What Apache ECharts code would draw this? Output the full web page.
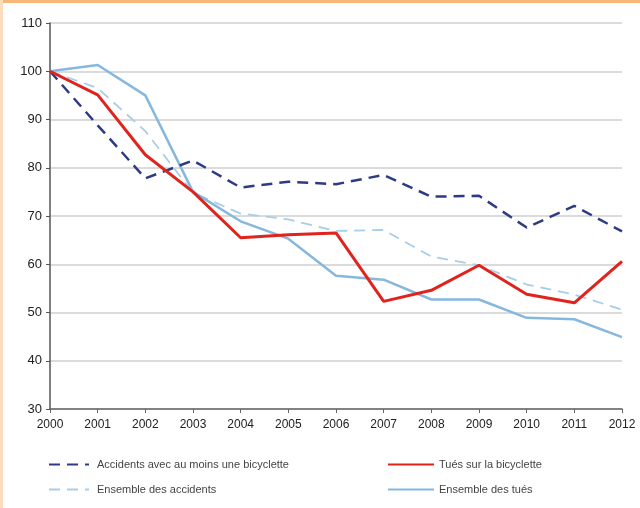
<!DOCTYPE html>
<html>
<head>
<meta charset="utf-8">
<script src="https://cdn.jsdelivr.net/npm/echarts@6/dist/echarts.min.js"></script>
<style>
  html, body { margin: 0; padding: 0; background: #fff; }
  #chart { width: 640px; height: 508px; }
</style>
</head>
<body>
<div id="chart"></div>
<script>
  // années (axe x)
  var years = ['2000', '2001', '2002', '2003', '2004', '2005', '2006',
               '2007', '2008', '2009', '2010', '2011', '2012'];

  // indices base 100 en 2000
  var accidentsVelo = [100, 88.8, 77.8, 81.5, 75.9, 77.1, 76.6, 78.5, 74.0, 74.2, 67.6, 72.1, 66.8];
  var tuesVelo      = [100, 95.1, 82.7, 75.0, 65.5, 66.1, 66.5, 52.3, 54.6, 59.8, 53.8, 52.0, 60.6];
  var ensAccidents  = [100, 96.5, 87.6, 74.8, 70.5, 69.3, 66.9, 67.1, 61.6, 59.8, 55.8, 53.7, 50.6];
  var ensTues       = [100, 101.3, 95.0, 75.0, 68.9, 65.3, 57.6, 56.8, 52.7, 52.7, 48.9, 48.6, 44.9];

  var names = ['Accidents avec au moins une bicyclette', 'Tués sur la bicyclette',
               'Ensemble des accidents', 'Ensemble des tués'];

  var font = 'Liberation Sans, Arial, sans-serif';

  // une légende par entrée, placée comme dans l'original
  function legendAt(name, left, top, w, pad) {
    return {
      data: [name],
      left: left,
      top: top,
      padding: 0,
      itemWidth: w,
      itemHeight: 12,
      itemStyle: { opacity: 0 },
      textStyle: { fontFamily: font, fontSize: 11, color: '#444', padding: [0, 0, 0, pad] }
    };
  }

  var option = {
    animation: false,
    backgroundColor: '#fff',
    grid: { left: 50, right: 18, top: 23, bottom: 99 },
    legend: [
      legendAt(names[0], 48, 459, 40, 3),
      legendAt(names[1], 387, 459, 46, 0),
      legendAt(names[2], 48, 484, 40, 3),
      legendAt(names[3], 387, 484, 46, 0)
    ],
    xAxis: {
      type: 'category',
      data: years,
      boundaryGap: false,
      axisLine: { lineStyle: { color: '#666', width: 1.5 } },
      axisTick: { show: true, length: 4, lineStyle: { color: '#666' } },
      axisLabel: { color: '#222', fontFamily: font, fontSize: 12, margin: 10 },
      splitLine: { show: false }
    },
    yAxis: {
      type: 'value',
      min: 30,
      max: 110,
      interval: 10,
      axisLine: { show: true, lineStyle: { color: '#555', width: 1.5 } },
      axisTick: { show: true, length: 4, lineStyle: { color: '#555' } },
      axisLabel: { color: '#222', fontFamily: font, fontSize: 13, margin: 8 },
      splitLine: { lineStyle: { color: '#cfcfcf', width: 1.5 } }
    },
    series: [
      {
        name: names[0], type: 'line', data: accidentsVelo, symbol: 'none',
        color: '#2f3a85',
        lineStyle: { color: '#2f3a85', width: 2.5, type: [11, 7] },
        z: 3
      },
      {
        name: names[1], type: 'line', data: tuesVelo, symbol: 'none',
        color: '#e0231c',
        lineStyle: { color: '#e0231c', width: 3 },
        z: 4
      },
      {
        name: names[2], type: 'line', data: ensAccidents, symbol: 'none',
        color: '#a8cde6',
        lineStyle: { color: '#a8cde6', width: 1.8, type: [11, 7] },
        z: 2
      },
      {
        name: names[3], type: 'line', data: ensTues, symbol: 'none',
        color: '#86b8de',
        lineStyle: { color: '#86b8de', width: 2.5 },
        z: 2
      }
    ],
    graphic: [
      { type: 'rect', left: 0, top: 0, shape: { width: 640, height: 3 }, style: { fill: '#f8b678' } },
      { type: 'rect', left: 0, top: 0, shape: { width: 3, height: 508 }, style: { fill: '#fcdcbc' } }
    ]
  };

  echarts.init(document.getElementById('chart')).setOption(option);
</script>
</body>
</html>
